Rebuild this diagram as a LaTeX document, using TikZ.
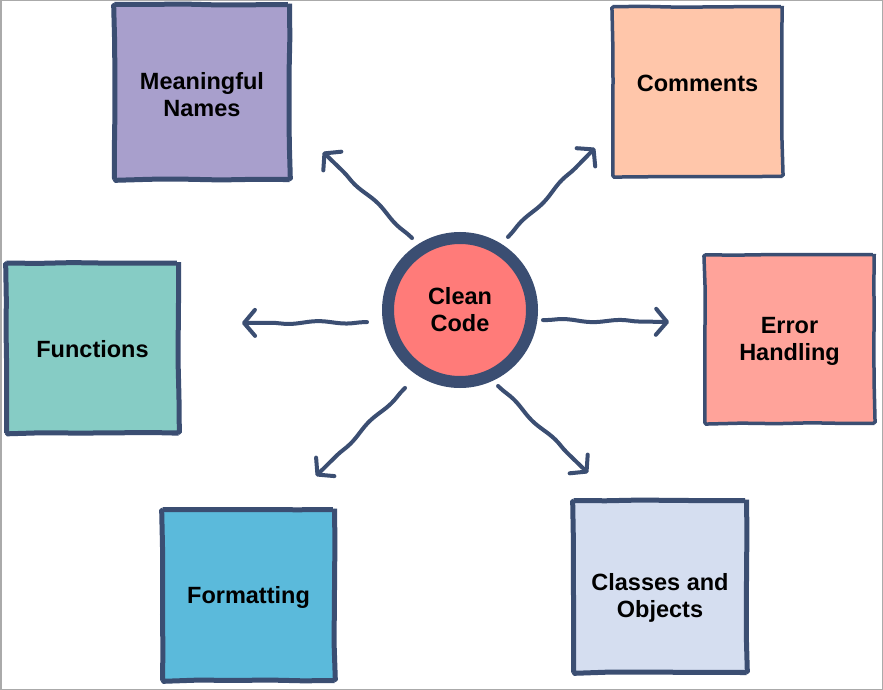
\documentclass[tikz,border=0pt]{standalone}
\usepackage{fontspec}
\setmainfont{Liberation Sans}
\usetikzlibrary{arrows.meta,decorations.pathmorphing,calc}
\definecolor{ink}{HTML}{3B4E72}
\definecolor{cmn}{HTML}{A89FCC}
\definecolor{ccom}{HTML}{FFC6AA}
\definecolor{cfun}{HTML}{86CCC5}
\definecolor{cerr}{HTML}{FFA39A}
\definecolor{cfmt}{HTML}{5BBADB}
\definecolor{ccls}{HTML}{D5DEF0}
\definecolor{cclean}{HTML}{FF7B79}
\definecolor{frame}{HTML}{AAAAAA}
\begin{document}
\begin{tikzpicture}[x=1pt,y=-1pt,
  box/.style={draw=ink, line width=5pt, inner sep=0pt,
    rounded corners=1.5pt, decorate,
    decoration={random steps, segment length=35pt, amplitude=0.5pt}},
  thinbox/.style={box, line width=3.5pt},
  lbl/.style={align=center, inner sep=0pt,
    font=\bfseries\fontsize{23.5}{27}\selectfont, text=black},
  arr/.style={draw=ink, line width=4pt, line cap=round, line join=round,
    -{Straight Barb[length=11pt,width=26pt,round]},
    decorate, decoration={snake, amplitude=1.3pt, segment length=58pt,
      pre length=2pt, post length=14pt}}]
\useasboundingbox (0,0) rectangle (883,690);
\fill[white] (0,0) rectangle (883,690);
\draw[frame, line width=1.5pt] (0.75,0.75) rectangle (882.25,689.25);

\node[box, fill=cmn, minimum width=175pt, minimum height=175pt] (mn) at (202,92) {};
\node[thinbox, fill=ccom, minimum width=169.5pt, minimum height=169.5pt] (com) at (697.5,91.5) {};
\node[box, fill=cfun, minimum width=172pt, minimum height=170pt] (fun) at (92.5,348) {};
\node[thinbox, fill=cerr, minimum width=169.5pt, minimum height=168.5pt] (err) at (789.5,339) {};
\node[box, fill=cfmt, minimum width=172pt, minimum height=171pt] (fmt) at (248.5,595) {};
\node[box, fill=ccls, minimum width=173pt, minimum height=172pt] (cls) at (660,586.5) {};

\node[lbl] (mnt) at ($(mn.center)+(0,3)$) {Meaningful\\Names};
\node[lbl] (comt) at ($(com.center)+(0,-8)$) {Comments};
\node[lbl] (funt) at ($(fun.center)+(0,1.5)$) {Functions};
\node[lbl] (errt) at ($(err.center)+(0,2.5)$) {Error\\Handling};
\node[lbl] (fmtt) at ($(fmt.center)+(0,2)$) {Formatting};
\node[lbl] (clst) at ($(cls.center)+(0,11)$) {Classes and\\Objects};

\node[circle, draw=ink, line width=12pt, fill=cclean, minimum size=144pt, inner sep=0pt,
  lbl] (c) at (460,310) {Clean\\Code};

\coordinate (s1) at ($(c.center)+(123.7:86.5pt)$);
\coordinate (s2) at ($(c.center)+(56.7:87.4pt)$);
\coordinate (s3) at ($(c.center)+(187.4:93.8pt)$);
\coordinate (s4) at ($(c.center)+(-6.9:83.6pt)$);
\coordinate (s5) at ($(c.center)+(234.8:95.4pt)$);
\coordinate (s6) at ($(c.center)+(296.6:85pt)$);
\coordinate (e1) at (323,152);
\coordinate (e2) at (595,148);
\coordinate (e3) at (242,323);
\coordinate (e4) at (669,322);
\coordinate (e5) at (316,476);
\coordinate (e6) at (588,473);

\draw[arr] (s1) -- (e1);
\draw[arr] (s2) -- (e2);
\draw[arr] (s3) -- (e3);
\draw[arr] (s4) -- (e4);
\draw[arr] (s5) -- (e5);
\draw[arr] (s6) -- (e6);
\end{tikzpicture}
\end{document}
